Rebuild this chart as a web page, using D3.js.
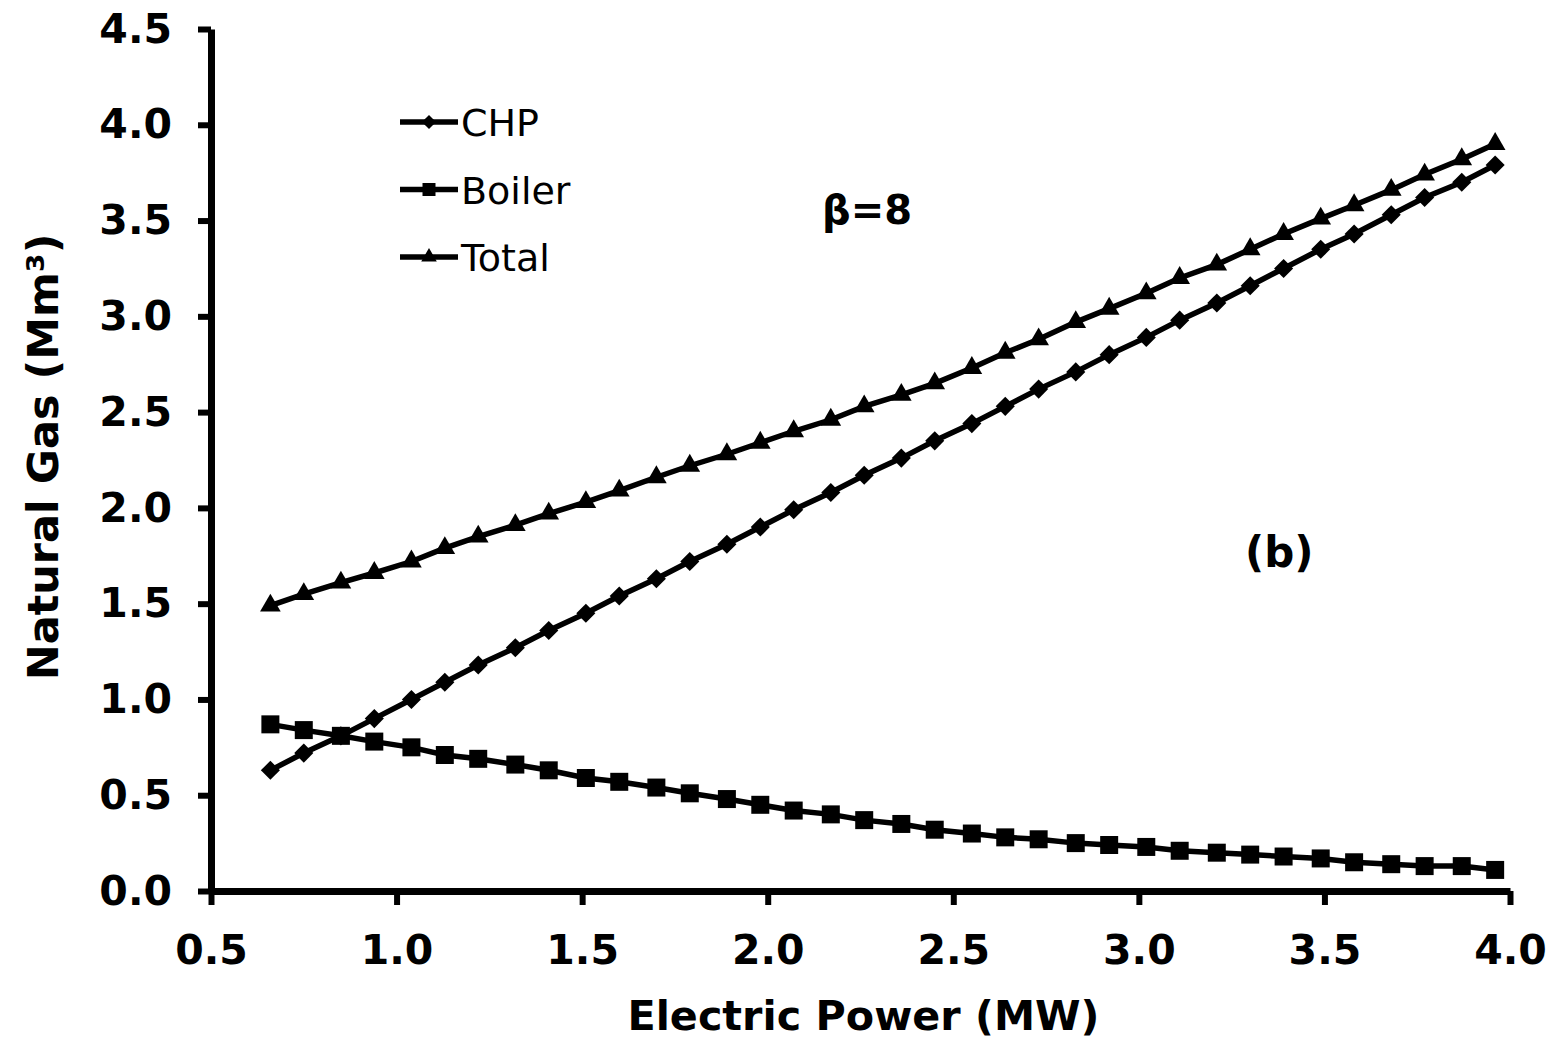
<!DOCTYPE html>
<html>
<head>
<meta charset="utf-8">
<script src="https://cdn.jsdelivr.net/npm/d3@7"></script>
<style>
  body { margin: 0; background: #fff; }
  svg { display: block; }
  .tick text { font-family: "DejaVu Sans", Verdana, sans-serif; font-weight: bold; font-size: 41px; fill: #000; }
  .tick line { stroke: #000; stroke-width: 6px; }
  .domain { stroke: #000; stroke-width: 7px; }
</style>
</head>
<body>
<svg width="1560" height="1039"></svg>
<script>
// electric power (MW)
var power = [0.66, 0.75, 0.85, 0.94, 1.04, 1.13, 1.22, 1.32, 1.41, 1.51, 1.60, 1.70,
             1.79, 1.89, 1.98, 2.07, 2.17, 2.26, 2.36, 2.45, 2.55, 2.64, 2.73, 2.83,
             2.92, 3.02, 3.11, 3.21, 3.30, 3.39, 3.49, 3.58, 3.68, 3.77, 3.87, 3.96];

// natural gas (Mm3)
var chp = [0.63, 0.72, 0.81, 0.90, 1.00, 1.09, 1.18, 1.27, 1.36, 1.45, 1.54, 1.63,
           1.72, 1.81, 1.90, 1.99, 2.08, 2.17, 2.26, 2.35, 2.44, 2.53, 2.62, 2.71,
           2.80, 2.89, 2.98, 3.07, 3.16, 3.25, 3.35, 3.43, 3.53, 3.62, 3.70, 3.79];
var boiler = [0.87, 0.84, 0.81, 0.78, 0.75, 0.71, 0.69, 0.66, 0.63, 0.59, 0.57, 0.54,
              0.51, 0.48, 0.45, 0.42, 0.40, 0.37, 0.35, 0.32, 0.30, 0.28, 0.27, 0.25,
              0.24, 0.23, 0.21, 0.20, 0.19, 0.18, 0.17, 0.15, 0.14, 0.13, 0.13, 0.11];
var total = [1.49, 1.55, 1.61, 1.66, 1.72, 1.79, 1.85, 1.91, 1.97, 2.03, 2.09, 2.16,
             2.22, 2.28, 2.34, 2.40, 2.46, 2.53, 2.59, 2.65, 2.73, 2.81, 2.88, 2.97,
             3.04, 3.12, 3.20, 3.27, 3.35, 3.43, 3.51, 3.58, 3.66, 3.74, 3.82, 3.90];

var seriesNames = ["CHP", "Boiler", "Total"];
var xTicks = [0.5, 1.0, 1.5, 2.0, 2.5, 3.0, 3.5, 4.0];
var yTicks = [0, 0.5, 1.0, 1.5, 2.0, 2.5, 3.0, 3.5, 4.0, 4.5];

var margin = { top: 29, bottom: 148, left: 211, right: 50 };
var width = 1560 - margin.left - margin.right;
var height = 1039 - margin.top - margin.bottom;

var xscale = d3.scaleLinear().domain([0.5, 4.0]).range([0, width]);
var yscale = d3.scaleLinear().domain([0, 4.5]).range([height, 0]);

var svg = d3.select("svg");
var graph = svg.append("g")
  .attr("transform", "translate(" + margin.left + "," + margin.top + ")");

// axes
graph.append("g")
  .attr("transform", "translate(0," + height + ")")
  .call(d3.axisBottom(xscale).tickValues(xTicks).tickFormat(d3.format(".1f"))
    .tickSize(14).tickSizeOuter(0).tickPadding(30));

graph.append("g")
  .call(d3.axisLeft(yscale).tickValues(yTicks).tickFormat(d3.format(".1f"))
    .tickSize(13).tickSizeOuter(0).tickPadding(26));

// marker shapes
function diamond(s) { return d3.symbol().type(d3.symbolSquare).size(s * s)(); }
var shapes = {
  CHP: { path: diamond(13.5), rot: 45 },
  Boiler: { path: d3.symbol().type(d3.symbolSquare).size(18 * 18)(), rot: 0 },
  Total: { path: d3.symbol().type(d3.symbolTriangle).size(185)(), rot: 0 }
};
var legendShapes = {
  CHP: { path: diamond(10), rot: 45 },
  Boiler: { path: d3.symbol().type(d3.symbolSquare).size(13 * 13)(), rot: 0 },
  Total: { path: d3.symbol().type(d3.symbolTriangle).size(105)(), rot: 0 }
};

var values = { CHP: chp, Boiler: boiler, Total: total };

var line = d3.line()
  .x(function(d, i) { return xscale(power[i]); })
  .y(function(d) { return yscale(d); });

seriesNames.forEach(function(name) {
  var ys = values[name];
  graph.append("path")
    .attr("d", line(ys))
    .attr("fill", "none")
    .attr("stroke", "#000")
    .attr("stroke-width", 5.5);

  graph.selectAll(null)
    .data(ys)
    .enter().append("path")
    .attr("d", shapes[name].path)
    .attr("fill", "#000")
    .attr("transform", function(d, i) {
      return "translate(" + xscale(power[i]) + "," + yscale(d) + ") rotate(" + shapes[name].rot + ")";
    });
});

// legend
var legend = svg.append("g").attr("transform", "translate(400,122)");
seriesNames.forEach(function(name, i) {
  var row = legend.append("g").attr("transform", "translate(0," + (i * 67.5) + ")");
  row.append("line")
    .attr("x1", 0).attr("x2", 58)
    .attr("stroke", "#000").attr("stroke-width", 5.5);
  row.append("path")
    .attr("d", legendShapes[name].path)
    .attr("transform", "translate(29,0) rotate(" + legendShapes[name].rot + ")")
    .attr("fill", "#000");
  row.append("text")
    .attr("x", 61).attr("y", 14)
    .style("font-family", "'DejaVu Sans', Tahoma, sans-serif")
    .style("font-size", "38px")
    .text(name);
});

// annotations
svg.append("text")
  .attr("x", 822).attr("y", 224)
  .style("font-family", "'DejaVu Sans', sans-serif")
  .style("font-weight", "bold").style("font-size", "40px")
  .text("β=8");

svg.append("text")
  .attr("x", 1245).attr("y", 567)
  .style("font-family", "'DejaVu Sans', sans-serif")
  .style("font-weight", "bold").style("font-size", "42px")
  .text("(b)");

// axis titles
svg.append("text")
  .attr("x", margin.left + width / 2 + 3).attr("y", 1030)
  .attr("text-anchor", "middle")
  .attr("textLength", 472).attr("lengthAdjust", "spacingAndGlyphs")
  .style("font-family", "'DejaVu Sans', sans-serif")
  .style("font-weight", "bold").style("font-size", "40px")
  .text("Electric Power (MW)");

svg.append("text")
  .attr("transform", "translate(58,457) rotate(-90)")
  .attr("text-anchor", "middle")
  .style("font-family", "'DejaVu Sans', sans-serif")
  .style("font-weight", "bold").style("font-size", "43px")
  .text("Natural Gas (Mm³)");
</script>
</body>
</html>
